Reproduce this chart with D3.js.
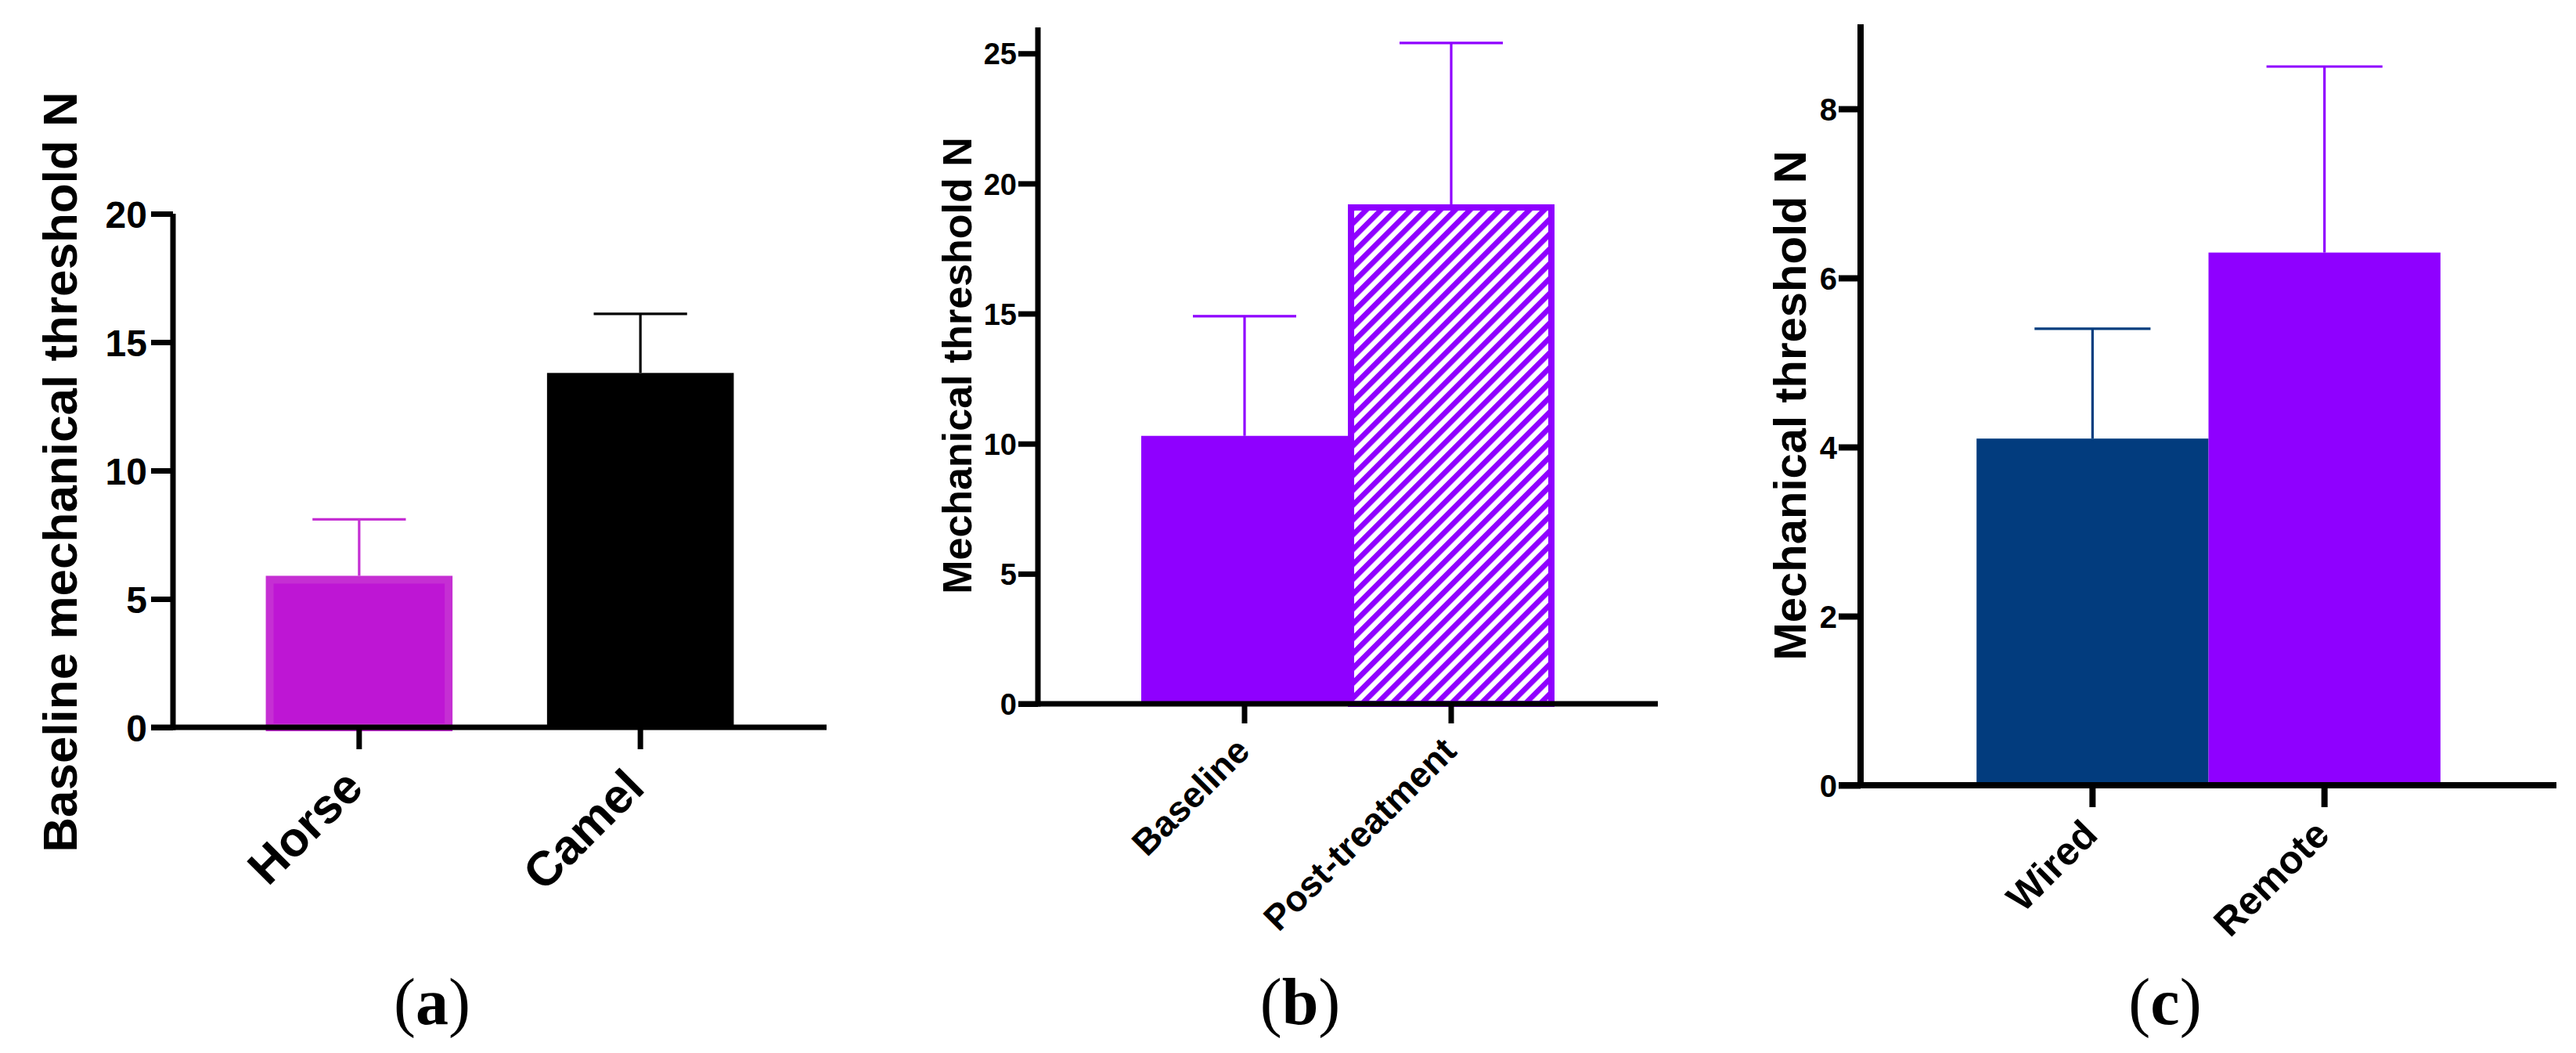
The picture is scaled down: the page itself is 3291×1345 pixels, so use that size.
<!DOCTYPE html>
<html>
<head>
<meta charset="utf-8">
<script src="https://cdn.jsdelivr.net/npm/d3@7"></script>
<style>
  html, body { margin: 0; padding: 0; background: #fff; }
  svg { display: block; }
</style>
</head>
<body>
<svg id="fig"></svg>
<script>
// panel (a)
const catsA = ["Horse", "Camel"];
const meansA = [5.9, 13.8];
const errA = [2.2, 2.3];
const ticksA = [0, 5, 10, 15, 20];

// panel (b)
const catsB = ["Baseline", "Post-treatment"];
const meansB = [10.3, 19.2];
const errB = [4.6, 6.2];
const ticksB = [0, 5, 10, 15, 20, 25];

// panel (c)
const catsC = ["Wired", "Remote"];
const meansC = [4.1, 6.3];
const errC = [1.3, 2.2];
const ticksC = [0, 2, 4, 6, 8];

const W = 3291, H = 1345;
const FONT = "'Liberation Sans', Arial, sans-serif";
const VIOLET = "#8f00ff";

const svg = d3.select("#fig").attr("width", W).attr("height", H);

// hatch for post-treatment bar
svg.append("defs").append("pattern")
    .attr("id", "hatch")
    .attr("patternUnits", "userSpaceOnUse")
    .attr("width", 13.4).attr("height", 13.4)
    .attr("patternTransform", "rotate(45)")
  .append("rect")
    .attr("width", 6.9).attr("height", 13.4)
    .attr("fill", VIOLET);

class BarPanel {
    constructor(opt) {
        this.opt = opt;
    }

    draw() {
        const o = this.opt;
        const g = svg.append("g");
        const lw = o.lineWidth;

        //x 스케일
        const x = d3.scaleBand().domain(o.cats)
            .range([o.left, o.right])
            .paddingInner(o.padIn).paddingOuter(o.padOut);
        //y 스케일
        const y = d3.scaleLinear().domain(o.yDomain).range([o.base, o.top]);

        const rows = o.cats.map((c, i) => ({cat: c, mean: o.means[i], err: o.errs[i], style: o.styles[i]}));
        const bw = x.bandwidth();

        // bars
        rows.forEach(d => {
            const s = d.style;
            const sw = s.strokeWidth || 0;
            g.append("rect")
                .attr("x", x(d.cat) + sw / 2)
                .attr("y", y(d.mean) + sw / 2)
                .attr("width", bw - sw)
                .attr("height", y(0) - y(d.mean) - sw / 2)
                .attr("fill", s.fill)
                .attr("stroke", sw ? s.stroke : "none")
                .attr("stroke-width", sw);
        });

        // error bars (upper only)
        rows.forEach(d => {
            const cx = x(d.cat) + bw / 2;
            const col = d.style.err;
            g.append("line")
                .attr("x1", cx).attr("x2", cx)
                .attr("y1", y(d.mean)).attr("y2", y(d.mean + d.err))
                .attr("stroke", col).attr("stroke-width", 3.2);
            g.append("line")
                .attr("x1", cx - bw / 4).attr("x2", cx + bw / 4)
                .attr("y1", y(d.mean + d.err)).attr("y2", y(d.mean + d.err))
                .attr("stroke", col).attr("stroke-width", 3.2);
        });

        // x 축
        const xAxis = g.append("g")
            .attr("transform", `translate(0,${o.base})`)
            .call(d3.axisBottom(x).tickSize(o.tickLen).tickSizeOuter(0).tickPadding(0));
        xAxis.select(".domain").attr("stroke-width", lw).attr("stroke", "#000")
            .attr("d", `M${o.left - o.tickLen},0H${o.right}`);
        xAxis.selectAll(".tick line").attr("stroke-width", lw).attr("stroke", "#000");
        xAxis.selectAll(".tick text")
            .attr("transform", `translate(${o.catDx},${o.catDy}) rotate(-45)`)
            .attr("y", 0).attr("dy", 0)
            .attr("text-anchor", "end")
            .attr("font-family", FONT).attr("font-weight", "bold")
            .attr("font-size", o.catSize).attr("fill", "#000");

        // y 축
        const yAxis = g.append("g")
            .attr("transform", `translate(${o.left},0)`)
            .call(d3.axisLeft(y).tickValues(o.ticks).tickFormat(d3.format("d"))
                .tickSize(o.tickLen).tickSizeOuter(0).tickPadding(o.tickPad));
        yAxis.select(".domain").attr("stroke-width", lw).attr("stroke", "#000")
            .attr("d", `M0,${o.top}V${o.base + lw / 2}`);
        yAxis.selectAll(".tick line").attr("stroke-width", lw).attr("stroke", "#000");
        yAxis.selectAll(".tick text")
            .attr("font-family", FONT).attr("font-weight", "bold")
            .attr("font-size", o.tickSize).attr("fill", "#000")
            .attr("dy", "0.36em");

        // y 축 제목
        g.append("text")
            .attr("transform", `translate(${o.titleX},${o.titleY}) rotate(-90)`)
            .attr("text-anchor", "middle")
            .attr("font-family", FONT).attr("font-weight", "bold")
            .attr("font-size", o.titleSize)
            .text(o.title);

        // panel letter
        const lab = g.append("text")
            .attr("x", o.letterX).attr("y", 1308)
            .attr("text-anchor", "middle")
            .attr("font-family", "'Liberation Serif', 'DejaVu Serif', serif")
            .attr("font-size", 84);
        lab.append("tspan").text("(");
        lab.append("tspan").attr("font-weight", "bold").text(o.letter);
        lab.append("tspan").text(")");
        return g;
    }
}

const panels = [
    new BarPanel({
        cats: catsA, means: meansA, errs: errA, ticks: ticksA,
        yDomain: [0, 20], left: 221, right: 1056, top: 273, base: 929,
        padIn: 0.336, padOut: 0.33, tickLen: 28, tickPad: 5, lineWidth: 7,
        tickSize: 48, catSize: 62, catDx: 8, catDy: 80,
        title: "Baseline mechanical threshold N", titleSize: 62, titleX: 98, titleY: 603,
        letter: "a", letterX: 552,
        styles: [
            {fill: "#be16d4", stroke: "#c52fd3", strokeWidth: 10, err: "#c52fd3"},
            {fill: "#000000", err: "#000000"}
        ]
    }),
    new BarPanel({
        cats: catsB, means: meansB, errs: errB, ticks: ticksB,
        yDomain: [0, 26], left: 1326, right: 2118, top: 35, base: 899,
        padIn: 0, padOut: 0.5, tickLen: 25, tickPad: 2, lineWidth: 7,
        tickSize: 38, catSize: 46, catDx: 9, catDy: 63,
        title: "Mechanical threshold N", titleSize: 52, titleX: 1241, titleY: 467,
        letter: "b", letterX: 1661,
        styles: [
            {fill: VIOLET, err: VIOLET},
            {fill: "url(#hatch)", stroke: VIOLET, strokeWidth: 8, err: VIOLET}
        ]
    }),
    new BarPanel({
        cats: catsC, means: meansC, errs: errC, ticks: ticksC,
        yDomain: [0, 9], left: 2377, right: 3266, top: 31, base: 1003,
        padIn: 0, padOut: 0.5, tickLen: 28, tickPad: 2, lineWidth: 8,
        tickSize: 40, catSize: 50, catDx: 9, catDy: 66,
        title: "Mechanical threshold N", titleSize: 58, titleX: 2307, titleY: 518,
        letter: "c", letterX: 2766,
        styles: [
            {fill: "#023c7e", err: "#023c7e"},
            {fill: VIOLET, err: VIOLET}
        ]
    })
];

panels.forEach(p => p.draw());
</script>
</body>
</html>
